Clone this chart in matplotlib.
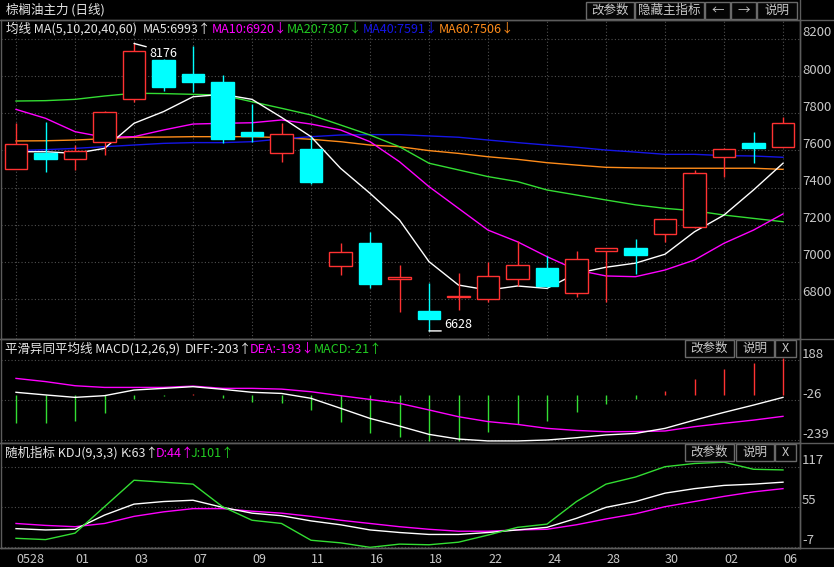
import matplotlib
matplotlib.use('Agg')
import matplotlib.pyplot as plt
import matplotlib.transforms as mtransforms
from matplotlib.patches import Rectangle
from matplotlib.lines import Line2D

plt.rcParams['font.family'] = ['Noto Sans CJK SC', 'DejaVu Sans']

W, H = 834, 567

# ---- data ----
dates = ['0528', '29', '01', '02', '03', '04', '07', '08', '09', '10', '11', '12', '16', '17',
         '18', '19', '22', '23', '24', '25', '28', '29', '30', '01', '02', '03', '06']

opens = [7498, 7584, 7552, 7647, 7875, 8087, 8012, 7967, 7698, 7584, 7608, 6979, 7101, 6906,
         6735, 6810, 6802, 6909, 6967, 6831, 7060, 7075, 7148, 7186, 7566, 7638, 7620]
closes = [7633, 7552, 7597, 7805, 8135, 7943, 7970, 7660, 7678, 7687, 7432, 7051, 6882, 6917,
          6694, 6816, 6922, 6981, 6871, 7015, 7073, 7039, 7231, 7477, 7608, 7615, 7746]
highs = [7749, 7753, 7629, 7812, 8176, 8090, 8162, 8006, 7848, 7749, 7674, 7103, 7159, 6981,
         6884, 6938, 6997, 7114, 7033, 7058, 7076, 7123, 7233, 7495, 7612, 7698, 7778]
lows = [7498, 7482, 7495, 7575, 7861, 7922, 7916, 7642, 7647, 7539, 7418, 6929, 6861, 6732,
        6628, 6741, 6785, 6870, 6866, 6812, 6785, 6934, 7108, 7184, 7459, 7531, 7618]

ma5 = [7593, 7593, 7584, 7611, 7746, 7809, 7889, 7902, 7875, 7778, 7674, 7504, 7369, 7225,
       7001, 6875, 6848, 6870, 6857, 6938, 6971, 6993, 7041, 7162, 7252, 7387, 7531]
ma10 = [7821, 7773, 7701, 7671, 7674, 7710, 7742, 7746, 7749, 7764, 7742, 7710, 7647, 7539,
        7405, 7288, 7171, 7108, 7028, 6956, 6924, 6920, 6956, 7010, 7100, 7171, 7258]
ma20 = [7866, 7868, 7875, 7893, 7908, 7906, 7902, 7898, 7862, 7827, 7791, 7737, 7683, 7620,
        7531, 7495, 7459, 7432, 7387, 7360, 7333, 7307, 7288, 7275, 7252, 7234, 7216]
ma40 = [7599, 7604, 7611, 7620, 7629, 7638, 7642, 7642, 7647, 7662, 7674, 7683, 7685, 7685,
        7678, 7671, 7656, 7642, 7629, 7617, 7602, 7591, 7579, 7579, 7572, 7570, 7563]
ma60 = [7651, 7652, 7656, 7663, 7671, 7672, 7674, 7674, 7674, 7669, 7660, 7647, 7629, 7620,
        7599, 7584, 7566, 7552, 7534, 7521, 7509, 7506, 7504, 7504, 7504, 7504, 7498]

diff = [16, 2, -11, -2, 28, 37, 46, 32, 16, 10, -16, -69, -123, -164,
        -208, -233, -243, -243, -238, -226, -211, -203, -176, -132, -91, -52, -11]
dea = [90, 73, 51, 42, 42, 42, 49, 37, 37, 33, 19, -2, -22, -43,
       -78, -114, -140, -155, -176, -187, -194, -193, -190, -167, -149, -132, -112]
macd = [-146, -146, -135, -93, -20, -4, 5, -13, -34, -39, -78, -140, -199, -220,
        -243, -243, -197, -155, -135, -87, -46, -21, 23, 87, 140, 170, 200]

k = [21, 19, 20, 42, 59, 63, 65, 54, 45, 41, 33, 27, 19, 15,
     12, 12, 15, 19, 23, 37, 54, 63, 76, 83, 88, 90, 93]
d = [29, 26, 24, 29, 40, 47, 52, 52, 48, 45, 40, 34, 29, 24,
     20, 17, 17, 19, 20, 27, 36, 44, 55, 63, 71, 78, 83]
j = [6, 4, 14, 55, 96, 93, 90, 55, 34, 29, 3, -1, -8, -3,
     -4, 0, 11, 23, 28, 63, 90, 101, 117, 122, 124, 113, 112]

price_ticks = [8200, 8000, 7800, 7600, 7400, 7200, 7000, 6800]
macd_ticks = [188, -26, -239]
kdj_ticks = [117, 55, -7]

# ---- colours ----
RED = '#ff3232'
CYAN = '#00ffff'
WHITE = '#ffffff'
MAG = '#ff00ff'
GREEN = '#33dd33'
BLUE = '#1515e6'
ORANGE = '#ff8c1a'
GRID = '#4f4f4f'
LINE = '#5c5c5c'
TXT = '#c8c8c8'

fig = plt.figure(figsize=(W / 100, H / 100), dpi=100, facecolor='black')


def add_panel(top, bottom, left=1, right=800):
    ax = fig.add_axes([left / W, 1 - bottom / H, (right - left) / W, (bottom - top) / H])
    ax.set_facecolor('black')
    for s in ax.spines.values():
        s.set_color(LINE)
        s.set_linewidth(1)
    ax.set_xlim((left - 16) / 29.5, (right - 16) / 29.5)
    ax.tick_params(left=False, labelleft=False, bottom=False, labelbottom=False)
    return ax


def right_labels(ax, ticks):
    tr = mtransforms.blended_transform_factory(ax.transAxes, ax.transData) + \
        mtransforms.ScaledTranslation(2 / 100, 6 / 100, fig.dpi_scale_trans)
    for t in ticks:
        ax.text(1.0, t, str(t), transform=tr, ha='left', va='center',
                color=TXT, fontsize=9.5, clip_on=False)
    for t in ticks:
        ax.axhline(t, color=GRID, lw=0.8, ls=(0, (1, 2)), zorder=1)


def ftext(x, y, s, color, **kw):
    fig.text(x / W, 1 - y / H, s, color=color, fontsize=9, va='center', **kw)


def button(x0, x1, y0, y1, label):
    fig.add_artist(Rectangle((x0 / W, 1 - y1 / H), (x1 - x0) / W, (y1 - y0) / H,
                             transform=fig.transFigure, facecolor='#050505',
                             edgecolor='#6a6a6a', lw=1))
    fig.text((x0 + x1) / 2 / W, 1 - (y0 + y1) / 2 / H, label, color=TXT, fontsize=9,
             ha='center', va='center')


idx = list(range(len(dates)))

# ---- main price panel ----
ax = add_panel(20, 339)
ax.set_ylim(8200 - (339 - 39) * 5.385, 8200 + 19 * 5.385)
ax.set_xticks(idx[::2])
ax.grid(axis='x', color=GRID, lw=0.8, ls=(0, (1, 2)))
right_labels(ax, price_ticks)

for vals, col in [(ma60, ORANGE), (ma40, BLUE), (ma20, GREEN), (ma10, MAG), (ma5, WHITE)]:
    ax.plot(idx, vals, color=col, lw=1, zorder=2)

up = [c >= o for o, c in zip(opens, closes)]
edge = [RED if u else CYAN for u in up]
face = ['black' if u else CYAN for u in up]
ax.vlines(idx, lows, highs, colors=edge, lw=1, zorder=3)
bottoms = [min(o, c) for o, c in zip(opens, closes)]
heights = [max(abs(c - o), 4) for o, c in zip(opens, closes)]
ax.bar(idx, heights, bottom=bottoms, width=0.76, color=face, edgecolor=edge, lw=1, zorder=4)

imax = highs.index(max(highs))
imin = lows.index(min(lows))
ax.annotate(str(max(highs)), xy=(imax, highs[imax]), xytext=(15, -4), textcoords='offset pixels',
            color=WHITE, fontsize=9, ha='left', va='top', zorder=6,
            arrowprops=dict(arrowstyle='-', color=WHITE, lw=1, shrinkA=0, shrinkB=0, relpos=(0, 1)))
ax.annotate(str(min(lows)), xy=(imin, lows[imin]), xytext=(15, 0), textcoords='offset pixels',
            color=WHITE, fontsize=9, ha='left', va='bottom', zorder=6,
            arrowprops=dict(arrowstyle='-', color=WHITE, lw=1, shrinkA=0, shrinkB=0, relpos=(0, 0)))

# ---- MACD panel ----
ax2 = add_panel(339, 443)
ax2.set_ylim(188 - 83 * 5.325, 188 + 21 * 5.325)
right_labels(ax2, macd_ticks)
ax2.vlines(idx, 0, macd, colors=[RED if m > 0 else GREEN for m in macd], lw=1, zorder=3)
ax2.plot(idx, dea, color=MAG, lw=1, zorder=4)
ax2.plot(idx, diff, color=WHITE, lw=1, zorder=4)

# ---- KDJ panel ----
ax3 = add_panel(443, 548)
ax3.set_ylim(117 - (548 - 466.7) * 1.55, 117 + (466.7 - 443) * 1.55)
right_labels(ax3, kdj_ticks)
ax3.plot(idx, d, color=MAG, lw=1, zorder=3)
ax3.plot(idx, k, color=WHITE, lw=1, zorder=3)
ax3.plot(idx, j, color=GREEN, lw=1, zorder=3)
ax3.set_xticks(idx[::2])
ax3.set_xticklabels(dates[::2], ha='left')
ax3.tick_params(bottom=False, labelbottom=True, labelcolor=TXT, labelsize=9, pad=0)

# ---- frame lines spanning the label column ----
for y in [20, 339, 443, 548]:
    fig.add_artist(Line2D([0, 1], [1 - y / H, 1 - y / H], transform=fig.transFigure, color=LINE, lw=1))
fig.add_artist(Line2D([800 / W, 800 / W], [1 - 548 / H, 1], transform=fig.transFigure, color=LINE, lw=1))

# ---- header texts ----
ftext(6, 10, '棕榈油主力 (日线)', '#e6e6e6')
ftext(6, 29, '均线 MA(5,10,20,40,60)', '#e6e6e6')
ftext(143, 29, 'MA5:6993↑', '#e6e6e6')
ftext(212, 29, 'MA10:6920↓', MAG)
ftext(287, 29, 'MA20:7307↓', '#22cc22')
ftext(363, 29, 'MA40:7591↓', BLUE)
ftext(439, 29, 'MA60:7506↓', ORANGE)

ftext(5, 349, '平滑异同平均线 MACD(12,26,9)', '#e6e6e6')
ftext(185, 349, 'DIFF:-203↑', '#e6e6e6')
ftext(250, 349, 'DEA:-193↓', MAG)
ftext(314, 349, 'MACD:-21↑', '#22cc22')

ftext(5, 453, '随机指标 KDJ(9,3,3)', '#e6e6e6')
ftext(121, 453, 'K:63↑', '#e6e6e6')
ftext(156, 453, 'D:44↑', MAG)
ftext(191, 453, 'J:101↑', '#22cc22')

# ---- buttons ----
for lab, x0, x1 in [('改参数', 586, 634), ('隐藏主指标', 635, 704), ('←', 705, 730),
                    ('→', 731, 756), ('说明', 757, 797)]:
    button(x0, x1, 2, 19, lab)
for y0 in [340, 444]:
    for lab, x0, x1 in [('改参数', 685, 734), ('说明', 736, 774), ('X', 775, 796)]:
        button(x0, x1, y0, y0 + 17, lab)

fig.savefig('out.png', dpi=100, facecolor='black')
